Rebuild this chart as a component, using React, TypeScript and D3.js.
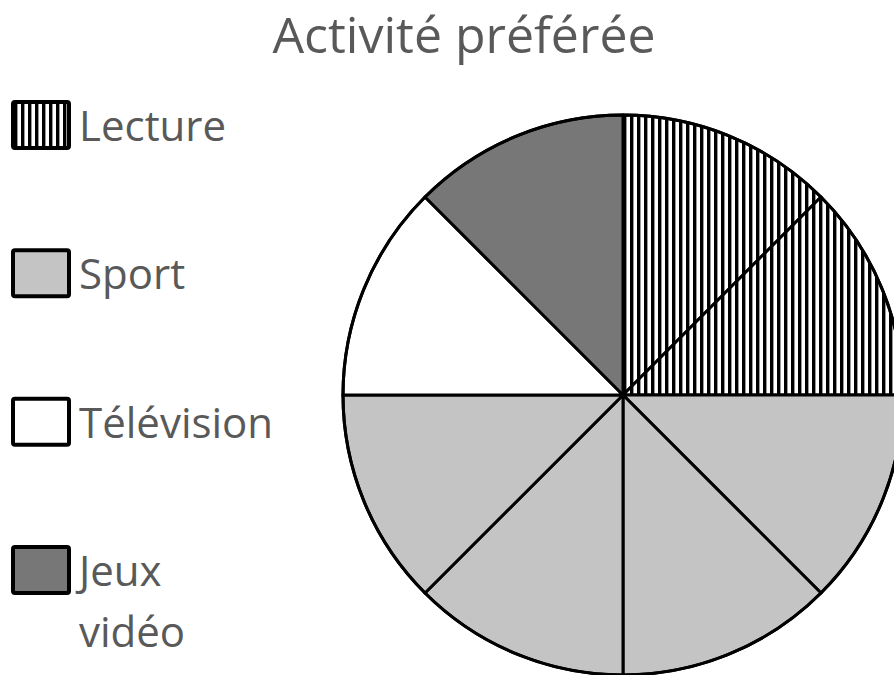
import React from "react";
import * as d3 from "d3";

const categories = ["Lecture", "Sport", "Télévision", "Jeux vidéo"];
const counts = [2, 4, 1, 1];
const legendLines = [["Lecture"], ["Sport"], ["Télévision"], ["Jeux", "vidéo"]];
const title = "Activité préférée";

const W = 894;
const H = 675;
const fills: Record<string, string> = {
  "Lecture": "url(#stripes)",
  "Sport": "#c4c4c4",
  "Télévision": "#ffffff",
  "Jeux vidéo": "#777777",
};

export default function App() {
  const units: string[] = [];
  categories.forEach((c, i) => {
    for (let k = 0; k < counts[i]; k++) units.push(c);
  });
  const pie = d3.pie<string>().sort(null).value(() => 1);
  const arcs = pie(units);
  const cx = 623;
  const cy = 395;
  const r = 280;
  const arc = d3.arc<d3.PieArcDatum<string>>().innerRadius(0).outerRadius(r);
  const font = "'Open Sans', sans-serif";
  const legendY = d3.scalePoint<string>().domain(categories).range([125, 570]);

  return (
    <svg
      width={W}
      height={H}
      style={{ position: "absolute", left: 0, top: 0, display: "block", background: "#fff" }}
    >
      <defs>
        <pattern id="stripes" patternUnits="userSpaceOnUse" width={7} height={10} x={cx}>
          <rect x={0} y={0} width={7} height={10} fill="#fff" />
          <rect x={0} y={0} width={3.4} height={10} fill="#000" />
        </pattern>
      </defs>
      <text x={464} y={53} textAnchor="middle" fontFamily={font} fontSize={50} fill="#595959">
        {title}
      </text>
      <g transform={`translate(${cx},${cy})`}>
        {arcs.map((a, i) => (
          <path key={i} d={arc(a) || ""} fill={fills[a.data]} stroke="#000" strokeWidth={3} strokeLinejoin="round" />
        ))}
        <circle r={r} fill="none" stroke="#000" strokeWidth={3} />
      </g>
      {categories.map((c, i) => {
        const y = legendY(c)!;
        return (
          <g key={c}>
            <rect x={13} y={y - 23} width={56} height={46} fill={fills[c]} stroke="#000" strokeWidth={4} rx={2} />
            {legendLines[i].map((t, j) => (
              <text key={j} x={79} y={y + 16 + j * 61} fontFamily={font} fontSize={42} fill="#595959">
                {t}
              </text>
            ))}
          </g>
        );
      })}
    </svg>
  );
}
